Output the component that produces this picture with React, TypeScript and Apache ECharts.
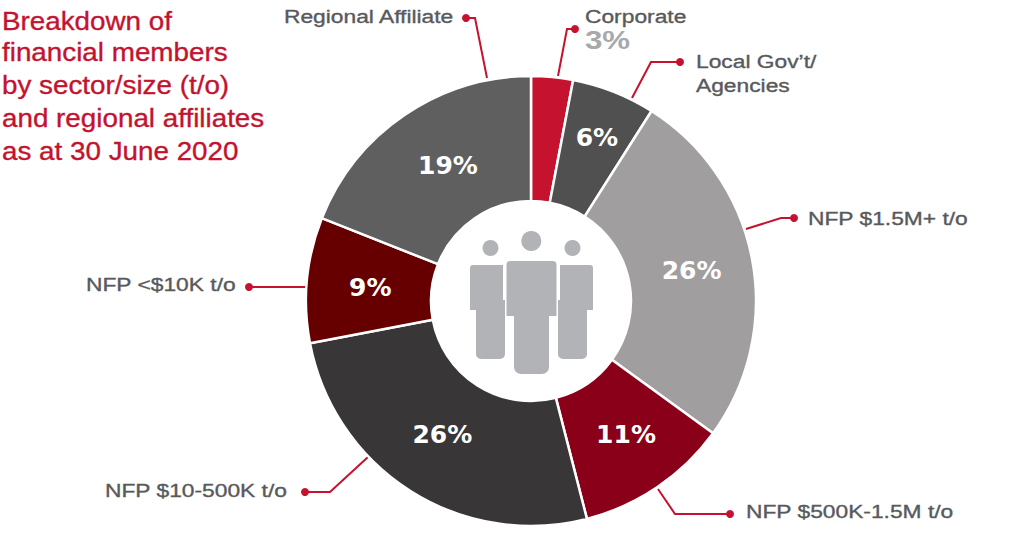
import React, { useEffect, useRef } from "react";
import * as echarts from "echarts";

const categories = ["Corporate", "Local Gov't/Agencies", "NFP $1.5M+ t/o", "NFP $500K-1.5M t/o", "NFP $10-500K t/o", "NFP <$10K t/o", "Regional Affiliate"];
const values = [3, 6, 26, 11, 26, 9, 19];
const colors = ["#c4122f", "#505050", "#a09e9f", "#8a0018", "#383637", "#660000", "#5f5f5f"];
const titleLines = ["Breakdown of", "financial members", "by sector/size (t/o)", "and regional affiliates", "as at 30 June 2020"];

const RED = "#c4122f";
const GREY = "#58595b";
const LABEL_FONT = "'Liberation Sans', Arial, sans-serif";
const PCT_FONT = "'DejaVu Sans', sans-serif";

const titleY = [21, 52.5, 85, 118, 151];
const labelShift = [[0, 0], [5, -10], [-2, 1], [2, -3], [0, -6], [4, 2], [10, 1]];

const leaders: { pts: number[][]; text: string; x: number; y: number }[] = [
  { pts: [[487, 78], [475, 18], [466, 18]], text: "Regional Affiliate", x: 284, y: 16.5 },
  { pts: [[558, 76], [567, 29], [575, 29]], text: "Corporate", x: 585, y: 16.5 },
  { pts: [[632, 98], [651, 62], [680, 62]], text: "Local Gov\u2019t/", x: 696, y: 61 },
  { pts: [[746, 229], [781, 218], [794, 218]], text: "NFP $1.5M+ t/o", x: 808, y: 218.5 },
  { pts: [[658, 489], [675, 514], [730, 514]], text: "NFP $500K-1.5M t/o", x: 746, y: 511.5 },
  { pts: [[368, 457], [330, 492], [305, 492]], text: "NFP $10-500K t/o", x: 105, y: 490.5 },
  { pts: [[307, 287], [249, 287]], text: "NFP <$10K t/o", x: 86, y: 284.5 },
];

function txt(text: string, x: number, y: number, fill: string, font: string, scaleX = 1, heavy = 0.35) {
  return {
    type: "text", x, y, scaleX,
    style: { text, fill, font, textVerticalAlign: "middle", stroke: fill, lineWidth: heavy },
  };
}

export default function App() {
  const ref = useRef<HTMLDivElement>(null);
  useEffect(() => {
    const chart = echarts.init(ref.current!, undefined, { renderer: "svg" });
    const icon = "#b1b3b6";
    const graphic: any[] = [];
    titleLines.forEach((t, i) => graphic.push(txt(t, 2, titleY[i], RED, `26px ${LABEL_FONT}`, 1.07)));
    leaders.forEach((l) => {
      graphic.push({ type: "polyline", shape: { points: l.pts }, style: { stroke: RED, lineWidth: 2, fill: "none" } });
      const e = l.pts[l.pts.length - 1];
      graphic.push({ type: "circle", shape: { cx: e[0], cy: e[1], r: 4 }, style: { fill: RED } });
      graphic.push(txt(l.text, l.x, l.y, GREY, `19px ${LABEL_FONT}`, 1.2));
    });
    graphic.push(txt("Agencies", 696, 85.5, GREY, `19px ${LABEL_FONT}`, 1.2));
    graphic.push(txt("3%", 585, 40, "#a7a9ac", `bold 25px ${LABEL_FONT}`, 1.25, 0));
    const rr = (x: number, y: number, w: number, h: number, r: any) => ({ type: "rect", shape: { x, y, width: w, height: h, r }, style: { fill: icon } });
    graphic.push(
      rr(476, 300, 29, 59, [0, 0, 5, 5]),
      rr(558, 300, 29, 59, [0, 0, 5, 5]),
      rr(470, 265, 33, 45, [3, 0, 0, 0]),
      rr(560, 265, 33, 45, [0, 3, 0, 0]),
      { type: "rect", shape: { x: 505, y: 260, width: 53, height: 57 }, style: { fill: "#fff" } },
      rr(506.5, 261, 50, 55, [4, 4, 0, 0]),
      rr(514, 310, 35, 64, [0, 0, 7, 7]),
      { type: "circle", shape: { cx: 531.3, cy: 241, r: 10 }, style: { fill: icon } },
      { type: "circle", shape: { cx: 490.5, cy: 248, r: 8 }, style: { fill: icon } },
      { type: "circle", shape: { cx: 572.5, cy: 248, r: 8 }, style: { fill: icon } }
    );
    chart.setOption({
      animation: false,
      backgroundColor: "#fff",
      series: [{
        type: "pie",
        center: [531, 301],
        radius: [100, 225],
        startAngle: 90,
        clockwise: true,
        silent: true,
        data: categories.map((name, i) => ({
          name,
          value: values[i],
          itemStyle: { color: colors[i] },
          label: i === 0 ? { show: false } : undefined,
        })),
        itemStyle: { borderColor: "#fff", borderWidth: 2.5 },
        label: {
          show: true,
          position: "inside",
          formatter: "{c}%",
          color: "#fff",
          fontFamily: PCT_FONT,
          fontWeight: "bold",
          fontSize: 25,
        },
        labelLayout: (p: any) => ({ dx: labelShift[p.dataIndex][0], dy: labelShift[p.dataIndex][1] }),
        labelLine: { show: false },
      }],
      graphic: { elements: graphic },
    });
    return () => chart.dispose();
  }, []);
  return <div ref={ref} style={{ position: "fixed", left: 0, top: 0, width: 1024, height: 538 }} />;
}
